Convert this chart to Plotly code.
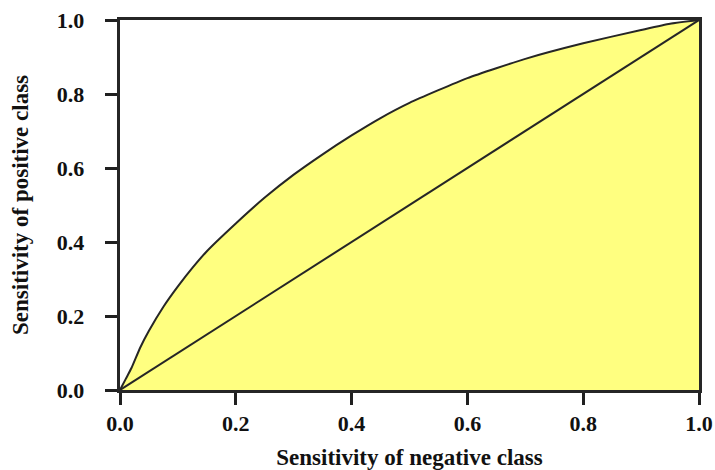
import plotly.graph_objects as go

fpr = [0, 0.01, 0.02, 0.035, 0.05, 0.075, 0.1, 0.125, 0.15, 0.2, 0.25, 0.3, 0.35, 0.4, 0.45, 0.5, 0.6, 0.7, 0.8, 0.9, 0.95, 1.0]
tpr = [0, 0.03, 0.06, 0.115, 0.16, 0.225, 0.28, 0.33, 0.375, 0.45, 0.52, 0.582, 0.637, 0.688, 0.735, 0.776, 0.843, 0.895, 0.937, 0.973, 0.99, 1.0]
diag_x = [0, 1]
diag_y = [0, 1]
tickvals = [0, 0.2, 0.4, 0.6, 0.8, 1.0]
ticktext = ["0.0", "0.2", "0.4", "0.6", "0.8", "1.0"]

line_col = "#262626"
tick_font = dict(family="Liberation Serif", size=22, color="#111111", weight="bold")
title_font = dict(family="Liberation Serif", size=23, color="#111111", weight="bold")

pad = "\u00a0\u00a0\u00a0"

fig = go.Figure()
fig.add_trace(go.Scatter(x=fpr, y=tpr, mode="lines", fill="tozeroy",
                         fillcolor="#FFFF80", line=dict(color=line_col, width=2, shape="spline", smoothing=0.5),
                         showlegend=False))
fig.add_trace(go.Scatter(x=diag_x, y=diag_y, mode="lines",
                         line=dict(color=line_col, width=2), showlegend=False))

axis_common = dict(range=[0, 1], tickmode="array", tickvals=tickvals, showgrid=False,
                   zeroline=False, showline=True, linecolor=line_col, linewidth=2.5,
                   mirror=True, ticks="outside", ticklen=12, tickwidth=2.5, tickcolor="#202020",
                   showticklabels=True, tickfont=tick_font, automargin=False)
fig.update_xaxes(**axis_common, ticktext=ticktext,
                 title=dict(text="Sensitivity of negative class", font=title_font, standoff=14))
fig.update_yaxes(**axis_common, ticktext=[t + pad for t in ticktext],
                 title=dict(text="Sensitivity of positive class", font=title_font, standoff=22))

fig.update_layout(width=715, height=470, margin=dict(l=120, r=16, t=20, b=80),
                  plot_bgcolor="white", paper_bgcolor="white")
fig.write_html("out.html")
